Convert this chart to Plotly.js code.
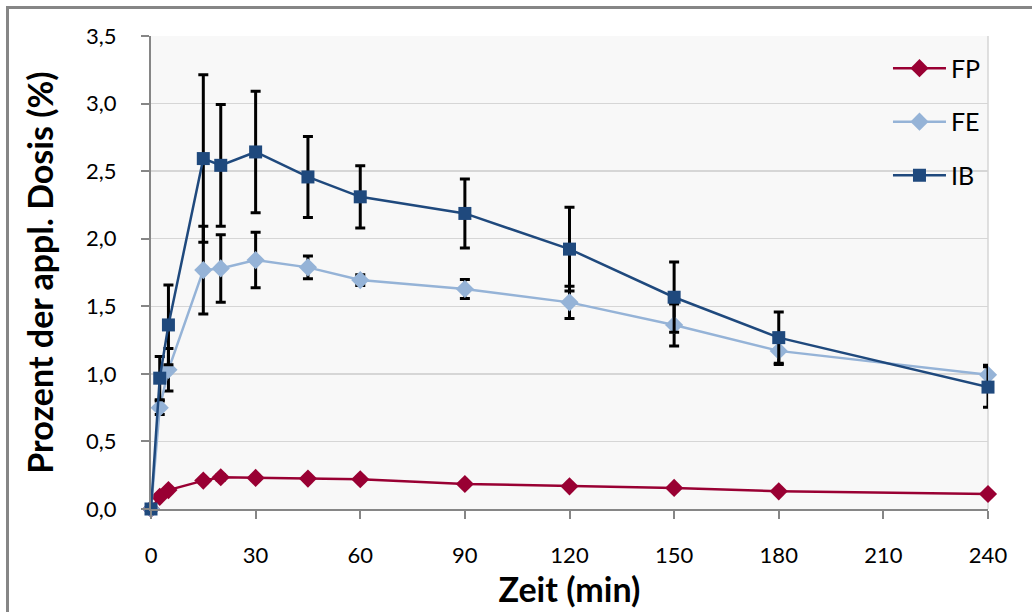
<!DOCTYPE html>
<html>
<head>
<meta charset="utf-8">
<script src="https://cdn.plot.ly/plotly-3.0.1.min.js"></script>
<style>
  html, body { margin: 0; padding: 0; background: #ffffff; overflow: hidden; }
  #wrap { position: relative; width: 1032px; height: 612px; }
  #chart { position: absolute; left: 0; top: 0; width: 1032px; height: 612px; }
  #frame { position: absolute; left: 6px; top: 6px; width: 1100px; height: 700px;
           border: 3px solid #868686; pointer-events: none; }
</style>
</head>
<body>
<div id="wrap">
  <div id="chart"></div>
  <div id="frame"></div>
</div>
<script>
// Sampling times (min)
const zeit = [0, 2.5, 5, 15, 20, 30, 45, 60, 90, 120, 150, 180, 240];

// Percent of applied dose
const fpWerte = [0, 0.09, 0.14, 0.21, 0.235, 0.23, 0.225, 0.22, 0.185, 0.168, 0.156, 0.131, 0.111];
const fpFehler = [0, 0.01, 0.01, 0.015, 0.02, 0.015, 0.015, 0.015, 0.01, 0.01, 0.01, 0.01, 0.01];

const feWerte = [0, 0.75, 1.03, 1.768, 1.78, 1.842, 1.788, 1.694, 1.628, 1.529, 1.362, 1.17, 0.993];
const feFehler = [0, 0.05, 0.157, 0.325, 0.25, 0.205, 0.085, 0.04, 0.07, 0.12, 0.155, 0.1, 0.07];

const ibWerte = [0, 0.968, 1.362, 2.593, 2.543, 2.642, 2.457, 2.31, 2.187, 1.923, 1.567, 1.268, 0.902];
const ibFehler = [0, 0.16, 0.295, 0.62, 0.45, 0.45, 0.30, 0.23, 0.255, 0.31, 0.26, 0.19, 0.15];

const serienNamen = ["FP", "FE", "IB"];
const xTicks = [0, 30, 60, 90, 120, 150, 180, 210, 240];
const yTicks = [0, 0.5, 1.0, 1.5, 2.0, 2.5, 3.0, 3.5];

const FONT = "Lato, 'Open Sans', sans-serif";

function serie(name, y, err, color, symbol, size, group, rank) {
  return {
    type: "scatter", mode: "lines+markers", name: name,
    x: zeit, y: y,
    legendgroup: group,
    legendrank: rank,
    line: { color: color, width: 2.5 },
    marker: { color: color, symbol: symbol, size: size, line: { width: 0 } },
    error_y: { type: "data", array: err, visible: true, color: "#000000", thickness: 3, width: 5 },
    cliponaxis: false
  };
}

const data = [
  serie(serienNamen[0], fpWerte, fpFehler, "#990033", "diamond", 14, "g1", 1),
  serie(serienNamen[1], feWerte, feFehler, "#95B3D7", "diamond", 14, "g2", 2),
  serie(serienNamen[2], ibWerte, ibFehler, "#1F497D", "square", 13, "g3", 3)
];

const layout = {
  width: 1032, height: 612,
  margin: { l: 151, r: 44, t: 36, b: 103 },
  paper_bgcolor: "rgba(0,0,0,0)",
  plot_bgcolor: "#f8f8f8",
  separators: ", ",
  font: { family: FONT, color: "#000000" },
  showlegend: true,
  legend: {
    x: 0.8805, xanchor: "left", y: 0.98, yanchor: "top",
    bgcolor: "rgba(0,0,0,0)",
    font: { family: FONT, size: 25, color: "#000000" },
    traceorder: "grouped",
    tracegroupgap: 18,
    itemwidth: 53
  },
  xaxis: {
    range: [0, 240],
    tickvals: xTicks,
    ticktext: xTicks.map(String),
    ticks: "outside", ticklen: 8, tickwidth: 2, tickcolor: "#868686",
    showline: true, linecolor: "#868686", linewidth: 2,
    showgrid: false, zeroline: false,
    tickfont: { family: FONT, size: 22, color: "#000000" },
    ticklabelstandoff: 18,
    title: { text: "Zeit (min)", font: { family: FONT, size: 34, color: "#000000", weight: "bold" }, standoff: 6 }
  },
  yaxis: {
    range: [0, 3.5],
    tickvals: yTicks,
    tickformat: ".1f",
    ticks: "outside", ticklen: 8, tickwidth: 2, tickcolor: "#868686",
    showline: true, linecolor: "#868686", linewidth: 2,
    showgrid: true, gridcolor: "#d6d6d6", gridwidth: 1.5,
    zeroline: false,
    tickfont: { family: FONT, size: 22, color: "#000000" },
    ticklabelstandoff: 20,
    title: { text: "Prozent der appl. Dosis (%)", font: { family: FONT, size: 34, color: "#000000", weight: "bold" }, standoff: 22 }
  },
  shapes: [
    { type: "line", xref: "paper", yref: "paper", x0: 1, x1: 1, y0: 0, y1: 1,
      line: { color: "#d6d6d6", width: 1.5 }, layer: "below" }
  ]
};

Plotly.newPlot("chart", data, layout, { displayModeBar: false, staticPlot: true });
</script>
</body>
</html>
